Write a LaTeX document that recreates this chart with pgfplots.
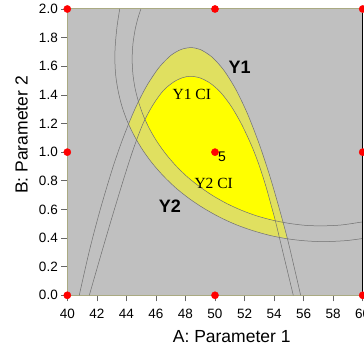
\documentclass[border=0pt]{standalone}
\usepackage{pgfplots}
\pgfplotsset{compat=1.18}
\usepackage{fontspec}
\setmainfont{Liberation Sans}
\newfontfamily\tnr{Liberation Serif}
\usetikzlibrary{calc}
\definecolor{bggray}{RGB}{192,192,192}
\definecolor{band}{RGB}{224,224,96}
\definecolor{yel}{RGB}{255,255,0}
\definecolor{cline}{RGB}{112,112,112}
\definecolor{frame}{RGB}{170,170,130}
\begin{document}
\begin{tikzpicture}
\begin{axis}[
  name=ax,
  scale only axis, width=295.4pt, height=286.3pt,
  xmin=40, xmax=60, ymin=0, ymax=2,
  xtick={40,42,44,46,48,50,52,54,56,58,60},
  ytick={0,0.2,0.4,0.6,0.8,1.0,1.2,1.4,1.6,1.8,2.0},
  yticklabel style={/pgf/number format/.cd, fixed, fixed zerofill, precision=1},
  xticklabel style={yshift=-4pt},
  /pgf/number format/assume math mode=true,
  tick label style={font=\fontsize{13.5}{13.5}\selectfont},
  tick align=outside, tick pos=left, major tick length=6pt,
  tick style={draw=black!60, line width=0.6pt},
  axis background/.style={fill=bggray},
  axis line style={draw=frame, line width=1pt},
  clip=false,
]
% outer (Y1 / Y2 mean) feasible region
\addplot[draw=none, fill=band] coordinates {
(44.15,1.197) (44.7,1.328) (45.4,1.467) (46.2,1.590) (47.0,1.675) (47.7,1.717) (48.35,1.73) (49.0,1.717) (49.8,1.664) (50.6,1.572) (51.4,1.440) (52.2,1.268) (53.0,1.055) (53.7,0.837) (54.3,0.625) (54.9,0.397)
(53.73,0.418) (52.55,0.452) (51.41,0.494) (50.31,0.546) (49.27,0.606) (48.29,0.673) (47.37,0.748) (46.54,0.830) (45.78,0.919) (45.12,1.0125) (44.55,1.111) (44.15,1.197)} -- cycle;
% inner (CI) feasible region
\addplot[draw=none, fill=yel] coordinates {
(45.29,1.226) (45.8,1.33) (46.5,1.43) (47.2,1.49) (47.8,1.52) (48.35,1.53) (49.0,1.518) (49.7,1.48) (50.4,1.415) (51.1,1.32) (51.8,1.195) (52.5,1.04) (53.0,0.905) (53.45,0.76) (53.8,0.63) (54.1,0.518)
(53.885,0.525) (52.82,0.555) (51.79,0.594) (50.795,0.641) (49.85,0.696) (48.97,0.758) (48.14,0.826) (47.39,0.901) (46.71,0.982) (46.11,1.0675) (45.59,1.158) (45.29,1.226)} -- cycle;
% Y1 contour
\addplot[cline, line width=0.5pt, smooth, tension=0.5] coordinates {
(40.81,0) (41.5,0.313) (42.2,0.588) (43.0,0.866) (43.6,1.049) (44.15,1.197) (44.7,1.328) (45.4,1.467) (46.2,1.590) (47.0,1.675) (47.7,1.717) (48.35,1.73) (49.0,1.717) (49.8,1.664) (50.6,1.572) (51.4,1.440) (52.2,1.268) (53.0,1.055) (53.7,0.837) (54.3,0.625) (54.9,0.397) (55.4,0.179) (55.8,0)};
% Y1 CI contour
\addplot[cline, line width=0.5pt, smooth, tension=0.5] coordinates {
(41.49,0) (42.3,0.29) (43.1,0.57) (43.9,0.84) (44.5,1.03) (45.13,1.20) (45.8,1.33) (46.5,1.43) (47.2,1.49) (47.8,1.52) (48.35,1.53) (49.0,1.518) (49.7,1.48) (50.4,1.415) (51.1,1.32) (51.8,1.195) (52.5,1.04) (53.0,0.905) (53.45,0.76) (53.8,0.63) (54.1,0.515) (54.6,0.30) (55.3,0)};
% Y2 contour
\addplot[cline, line width=0.5pt, smooth, tension=0.5] coordinates {
(43.55,2.00) (43.37,1.88) (43.25,1.75) (43.22,1.65) (43.275,1.539) (43.44,1.429) (43.70,1.320) (44.07,1.214) (44.55,1.111) (45.12,1.0125) (45.78,0.919) (46.54,0.830) (47.37,0.748) (48.29,0.673) (49.27,0.606) (50.31,0.546) (51.41,0.494) (52.55,0.452) (53.73,0.418) (54.94,0.394) (56.16,0.380) (57.4,0.375) (58.88,0.382) (60,0.397)};
% Y2 CI contour
\addplot[cline, line width=0.5pt, smooth, tension=0.5] coordinates {
(44.98,2.00) (44.77,1.932) (44.585,1.852) (44.44,1.752) (44.39,1.65) (44.44,1.548) (44.585,1.448) (44.83,1.349) (45.16,1.252) (45.59,1.158) (46.11,1.0675) (46.71,0.982) (47.39,0.901) (48.14,0.826) (48.97,0.758) (49.85,0.696) (50.795,0.641) (51.79,0.594) (52.82,0.555) (53.885,0.525) (54.98,0.503) (56.08,0.489) (57.2,0.485) (58.54,0.491) (60,0.513)};
% right frame edge
\draw[black, line width=1pt] (rel axis cs:1,0) -- (rel axis cs:1,0.985);
% design points
\addplot[only marks, mark=*, mark size=3.6pt, mark options={draw=red, fill=red}] coordinates {
(40,0) (50,0) (60,0) (40,1) (50,1) (60,1) (40,2) (50,2) (60,2)};
\node[anchor=west, inner sep=0pt, font=\fontsize{14}{14}\selectfont] at (axis cs:50.2,0.97) {5};
\node[font=\fontsize{18}{18}\selectfont\bfseries] at (axis cs:51.67,1.59) {Y1};
\node[font=\fontsize{18}{18}\selectfont\bfseries] at (axis cs:46.94,0.624) {Y2};
\node[font=\tnr\fontsize{15.5}{15.5}\selectfont] at (axis cs:48.43,1.40) {Y1 CI};
\node[font=\tnr\fontsize{15.5}{15.5}\selectfont] at (axis cs:49.91,0.778) {Y2 CI};
% axis titles
\node[font=\fontsize{17.5}{17.5}\selectfont] at ([yshift=-41.7pt]rel axis cs:0.5566,0) {A: Parameter 1};
\node[rotate=90, font=\fontsize{17.5}{17.5}\selectfont] at ([xshift=-45.6pt]rel axis cs:0,0.56) {B: Parameter 2};
\end{axis}
\pgfresetboundingbox
\path[use as bounding box] ($(ax.south west)+(-67.3pt,-56.7pt)$) rectangle ($(ax.north east)+(1.3pt,9pt)$);
\end{tikzpicture}
\end{document}
